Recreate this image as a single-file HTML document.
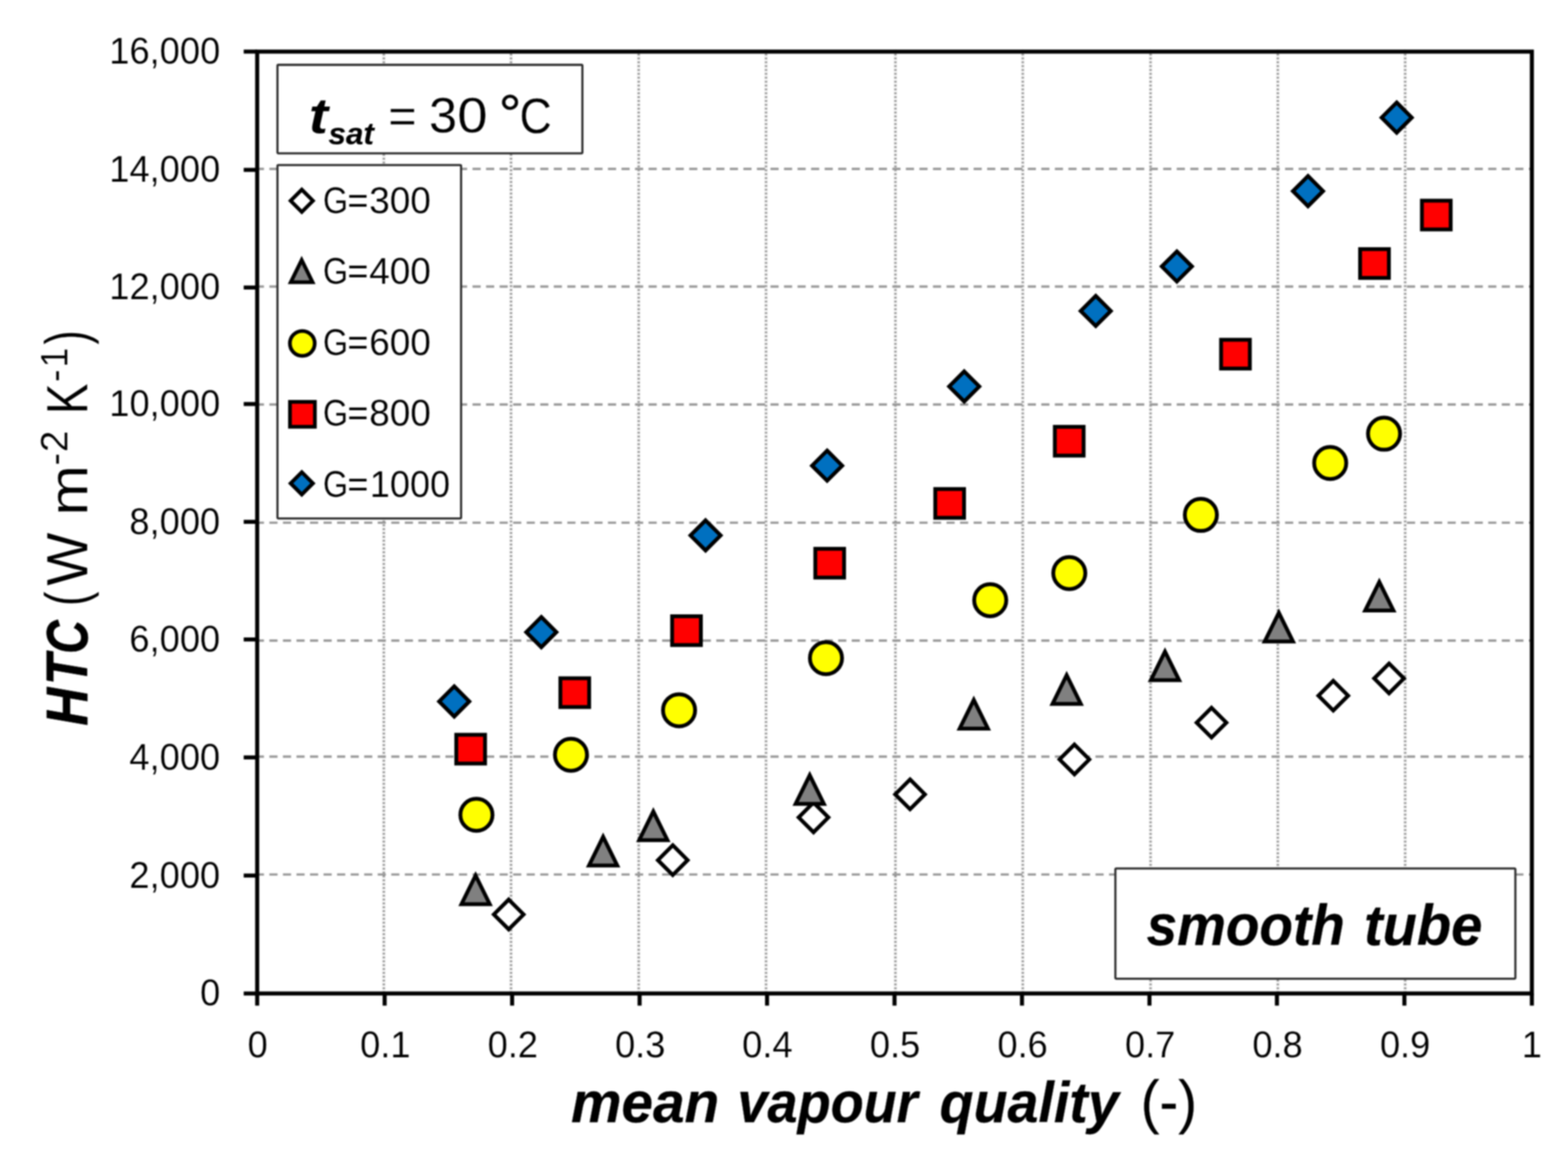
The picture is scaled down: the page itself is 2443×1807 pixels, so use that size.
<!DOCTYPE html>
<html lang="en"><head><meta charset="utf-8"><title>HTC vs mean vapour quality - smooth tube</title>
<style>
html,body{margin:0;padding:0;background:#fff;}
body{width:2443px;height:1807px;overflow:hidden;}
svg{display:block;filter:blur(0.9px);}
text{white-space:pre;}
</style></head>
<body>
<svg width="2443" height="1807" viewBox="0 0 2443 1807" font-family="'Liberation Sans', sans-serif" role="img" aria-label="HTC versus mean vapour quality, smooth tube, t sat = 30 °C">
<rect width="2443" height="1807" fill="#fff"/>
<g fill="none">
<path d="M598 77.8V1547.6M796.2 77.8V1547.6M995.1 77.8V1547.6M1193.5 77.8V1547.6M1395.1 77.8V1547.6M1593.5 77.8V1547.6M1792.6 77.8V1547.6M1990.9 77.8V1547.6M2189.3 77.8V1547.6" stroke="#f3f3f3" stroke-width="5.4"/>
<path d="M598 77.8V1547.6M796.2 77.8V1547.6M995.1 77.8V1547.6M1193.5 77.8V1547.6M1395.1 77.8V1547.6M1593.5 77.8V1547.6M1792.6 77.8V1547.6M1990.9 77.8V1547.6M2189.3 77.8V1547.6" stroke="#909090" stroke-width="3.7" stroke-dasharray="2.5 3.51"/>
</g>
<g stroke="#999999" stroke-width="3.6" stroke-dasharray="12.7 8.4" fill="none">
<path d="M398.6 1362.3H2386.7"/>
<path d="M398.6 1178.6H2386.7"/>
<path d="M398.6 997.9H2386.7"/>
<path d="M398.6 814.2H2386.7"/>
<path d="M398.6 630.1H2386.7"/>
<path d="M398.6 446.4H2386.7"/>
<path d="M398.6 263.1H2386.7"/>
</g>
<rect x="432.3" y="101" width="475.1" height="137.8" rx="1.5" fill="#fff" stroke="#2b2b2b" stroke-width="3.3"/>
<rect x="432.3" y="257.1" width="286.1" height="550.5" rx="1.5" fill="#fff" stroke="#2b2b2b" stroke-width="3.3"/>
<rect x="1737.8" y="1352.9" width="623.2" height="171.7" rx="1.5" fill="#fff" stroke="#2b2b2b" stroke-width="3.3"/>
<g stroke="#000" stroke-width="6.3" fill="none">
<rect x="400.7" y="80.4" width="1986" height="1467.2"/>
<path d="M379.7 1547.6H400.7M379.7 1363.9H400.7M379.7 1179.9H400.7M379.7 996.1H400.7M379.7 812.95H400.7M379.7 629.3H400.7M379.7 447.8H400.7M379.7 264.7H400.7M379.7 80.45H400.7M400.7 1547.6V1566.6M599.3 1547.6V1566.6M797.9 1547.6V1566.6M996.5 1547.6V1566.6M1195.1 1547.6V1566.6M1393.7 1547.6V1566.6M1592.3 1547.6V1566.6M1790.9 1547.6V1566.6M1989.5 1547.6V1566.6M2188.1 1547.6V1566.6M2386.7 1547.6V1566.6"/>
</g>
<g>
<path d="M792.6 1401.34L815.76 1424.5L792.6 1447.66L769.44 1424.5Z" fill="#fff" stroke="#000" stroke-width="6"/>
<path d="M1048.2 1316.74L1071.36 1339.9L1048.2 1363.06L1025.04 1339.9Z" fill="#fff" stroke="#000" stroke-width="6"/>
<path d="M1267.5 1250.14L1290.66 1273.3L1267.5 1296.46L1244.34 1273.3Z" fill="#fff" stroke="#000" stroke-width="6"/>
<path d="M1417.9 1214.24L1441.06 1237.4L1417.9 1260.56L1394.74 1237.4Z" fill="#fff" stroke="#000" stroke-width="6"/>
<path d="M1674 1159.84L1697.16 1183L1674 1206.16L1650.84 1183Z" fill="#fff" stroke="#000" stroke-width="6"/>
<path d="M1887.6 1102.54L1910.76 1125.7L1887.6 1148.86L1864.44 1125.7Z" fill="#fff" stroke="#000" stroke-width="6"/>
<path d="M2077.3 1060.54L2100.46 1083.7L2077.3 1106.86L2054.14 1083.7Z" fill="#fff" stroke="#000" stroke-width="6"/>
<path d="M2164.2 1033.64L2187.36 1056.8L2164.2 1079.96L2141.04 1056.8Z" fill="#fff" stroke="#000" stroke-width="6"/>
<path d="M741 1363.78L763.02 1408.4L718.98 1408.4Z" fill="#808080" stroke="#000" stroke-width="6" stroke-miterlimit="10"/>
<path d="M939.7 1303.58L961.72 1348.2L917.68 1348.2Z" fill="#808080" stroke="#000" stroke-width="6" stroke-miterlimit="10"/>
<path d="M1017.9 1264.08L1039.92 1308.7L995.88 1308.7Z" fill="#808080" stroke="#000" stroke-width="6" stroke-miterlimit="10"/>
<path d="M1261.6 1207.58L1283.62 1252.2L1239.58 1252.2Z" fill="#808080" stroke="#000" stroke-width="6" stroke-miterlimit="10"/>
<path d="M1517.2 1090.38L1539.22 1135L1495.18 1135Z" fill="#808080" stroke="#000" stroke-width="6" stroke-miterlimit="10"/>
<path d="M1661.9 1051.78L1683.92 1096.4L1639.88 1096.4Z" fill="#808080" stroke="#000" stroke-width="6" stroke-miterlimit="10"/>
<path d="M1815.1 1014.98L1837.12 1059.6L1793.08 1059.6Z" fill="#808080" stroke="#000" stroke-width="6" stroke-miterlimit="10"/>
<path d="M1992.5 954.58L2014.52 999.2L1970.48 999.2Z" fill="#808080" stroke="#000" stroke-width="6" stroke-miterlimit="10"/>
<path d="M2149 906.48L2171.02 951.1L2126.98 951.1Z" fill="#808080" stroke="#000" stroke-width="6" stroke-miterlimit="10"/>
<circle cx="742.3" cy="1269.3" r="25" fill="#ffff00" stroke="#000" stroke-width="6"/>
<circle cx="889.6" cy="1175.8" r="25" fill="#ffff00" stroke="#000" stroke-width="6"/>
<circle cx="1058" cy="1106.4" r="25" fill="#ffff00" stroke="#000" stroke-width="6"/>
<circle cx="1286.9" cy="1025.3" r="25" fill="#ffff00" stroke="#000" stroke-width="6"/>
<circle cx="1542.8" cy="935" r="25" fill="#ffff00" stroke="#000" stroke-width="6"/>
<circle cx="1666" cy="892.7" r="25" fill="#ffff00" stroke="#000" stroke-width="6"/>
<circle cx="1871" cy="802.1" r="25" fill="#ffff00" stroke="#000" stroke-width="6"/>
<circle cx="2072.5" cy="721.2" r="25" fill="#ffff00" stroke="#000" stroke-width="6"/>
<circle cx="2156.4" cy="675.6" r="25" fill="#ffff00" stroke="#000" stroke-width="6"/>
<rect x="710.9" y="1144.6" width="44.8" height="44.8" fill="#ff0000" stroke="#000" stroke-width="6"/>
<rect x="873.1" y="1056.6" width="44.8" height="44.8" fill="#ff0000" stroke="#000" stroke-width="6"/>
<rect x="1047.2" y="960" width="44.8" height="44.8" fill="#ff0000" stroke="#000" stroke-width="6"/>
<rect x="1270.3" y="854.9" width="44.8" height="44.8" fill="#ff0000" stroke="#000" stroke-width="6"/>
<rect x="1457.2" y="761.8" width="44.8" height="44.8" fill="#ff0000" stroke="#000" stroke-width="6"/>
<rect x="1643.5" y="664.9" width="44.8" height="44.8" fill="#ff0000" stroke="#000" stroke-width="6"/>
<rect x="1902.5" y="529.3" width="44.8" height="44.8" fill="#ff0000" stroke="#000" stroke-width="6"/>
<rect x="2119.1" y="388.1" width="44.8" height="44.8" fill="#ff0000" stroke="#000" stroke-width="6"/>
<rect x="2215.4" y="312.6" width="44.8" height="44.8" fill="#ff0000" stroke="#000" stroke-width="6"/>
<path d="M707.7 1069.24L731.16 1092.7L707.7 1116.16L684.24 1092.7Z" fill="#0070c0" stroke="#000" stroke-width="6"/>
<path d="M843.4 961.24L866.86 984.7L843.4 1008.16L819.94 984.7Z" fill="#0070c0" stroke="#000" stroke-width="6"/>
<path d="M1099.3 810.54L1122.76 834L1099.3 857.46L1075.84 834Z" fill="#0070c0" stroke="#000" stroke-width="6"/>
<path d="M1288.7 701.94L1312.16 725.4L1288.7 748.86L1265.24 725.4Z" fill="#0070c0" stroke="#000" stroke-width="6"/>
<path d="M1502.3 578.54L1525.76 602L1502.3 625.46L1478.84 602Z" fill="#0070c0" stroke="#000" stroke-width="6"/>
<path d="M1707.2 460.94L1730.66 484.4L1707.2 507.86L1683.74 484.4Z" fill="#0070c0" stroke="#000" stroke-width="6"/>
<path d="M1833.6 391.64L1857.06 415.1L1833.6 438.56L1810.14 415.1Z" fill="#0070c0" stroke="#000" stroke-width="6"/>
<path d="M2037.9 274.24L2061.36 297.7L2037.9 321.16L2014.44 297.7Z" fill="#0070c0" stroke="#000" stroke-width="6"/>
<path d="M2176.1 159.74L2199.56 183.2L2176.1 206.66L2152.64 183.2Z" fill="#0070c0" stroke="#000" stroke-width="6"/>
</g>
<g>
<path d="M470.2 295.4L487.6 312.8L470.2 330.2L452.8 312.8Z" fill="#fff" stroke="#000" stroke-width="5.8"/>
<path d="M470 405.07L486.99 439.6L453.01 439.6Z" fill="#808080" stroke="#000" stroke-width="5.8" stroke-miterlimit="10"/>
<circle cx="471" cy="535" r="19.35" fill="#ffff00" stroke="#000" stroke-width="5.8"/>
<rect x="451.8" y="626" width="38.8" height="38.8" fill="#ff0000" stroke="#000" stroke-width="5.8"/>
<path d="M470.2 735.5L487.6 752.9L470.2 770.3L452.8 752.9Z" fill="#0070c0" stroke="#000" stroke-width="5.8"/>
</g>
<g fill="#000">
<text><tspan x="311.82" y="1566.2" font-size="57.2" textLength="31.43" lengthAdjust="spacingAndGlyphs" stroke="#fff" stroke-width="0.25">0</tspan></text>
<text><tspan x="201.62" y="1382.5" font-size="57.2" textLength="141.43" lengthAdjust="spacingAndGlyphs" stroke="#fff" stroke-width="0.25">2,000</tspan></text>
<text><tspan x="201.62" y="1198.5" font-size="57.2" textLength="141.43" lengthAdjust="spacingAndGlyphs" stroke="#fff" stroke-width="0.25">4,000</tspan></text>
<text><tspan x="201.62" y="1014.7" font-size="57.2" textLength="141.43" lengthAdjust="spacingAndGlyphs" stroke="#fff" stroke-width="0.25">6,000</tspan></text>
<text><tspan x="201.62" y="831.55" font-size="57.2" textLength="141.43" lengthAdjust="spacingAndGlyphs" stroke="#fff" stroke-width="0.25">8,000</tspan></text>
<text><tspan x="170.25" y="647.9" font-size="57.2" textLength="172.85" lengthAdjust="spacingAndGlyphs" stroke="#fff" stroke-width="0.25">10,000</tspan></text>
<text><tspan x="170.25" y="466.4" font-size="57.2" textLength="172.85" lengthAdjust="spacingAndGlyphs" stroke="#fff" stroke-width="0.25">12,000</tspan></text>
<text><tspan x="170.25" y="283.3" font-size="57.2" textLength="172.85" lengthAdjust="spacingAndGlyphs" stroke="#fff" stroke-width="0.25">14,000</tspan></text>
<text><tspan x="170.25" y="99.05" font-size="57.2" textLength="172.85" lengthAdjust="spacingAndGlyphs" stroke="#fff" stroke-width="0.25">16,000</tspan></text>
<text><tspan x="385.82" y="1646.9" font-size="57.2" textLength="31.43" lengthAdjust="spacingAndGlyphs" stroke="#fff" stroke-width="0.25">0</tspan></text>
<text><tspan x="561.11" y="1646.9" font-size="57.2" textLength="78.56" lengthAdjust="spacingAndGlyphs" stroke="#fff" stroke-width="0.25">0.1</tspan></text>
<text><tspan x="759.71" y="1646.9" font-size="57.2" textLength="78.56" lengthAdjust="spacingAndGlyphs" stroke="#fff" stroke-width="0.25">0.2</tspan></text>
<text><tspan x="958.16" y="1646.9" font-size="57.2" textLength="78.56" lengthAdjust="spacingAndGlyphs" stroke="#fff" stroke-width="0.25">0.3</tspan></text>
<text><tspan x="1156.34" y="1646.9" font-size="57.2" textLength="78.56" lengthAdjust="spacingAndGlyphs" stroke="#fff" stroke-width="0.25">0.4</tspan></text>
<text><tspan x="1355.22" y="1646.9" font-size="57.2" textLength="78.56" lengthAdjust="spacingAndGlyphs" stroke="#fff" stroke-width="0.25">0.5</tspan></text>
<text><tspan x="1553.96" y="1646.9" font-size="57.2" textLength="78.56" lengthAdjust="spacingAndGlyphs" stroke="#fff" stroke-width="0.25">0.6</tspan></text>
<text><tspan x="1752.71" y="1646.9" font-size="57.2" textLength="78.56" lengthAdjust="spacingAndGlyphs" stroke="#fff" stroke-width="0.25">0.7</tspan></text>
<text><tspan x="1951.16" y="1646.9" font-size="57.2" textLength="78.56" lengthAdjust="spacingAndGlyphs" stroke="#fff" stroke-width="0.25">0.8</tspan></text>
<text><tspan x="2149.91" y="1646.9" font-size="57.2" textLength="78.56" lengthAdjust="spacingAndGlyphs" stroke="#fff" stroke-width="0.25">0.9</tspan></text>
<text><tspan x="2371.11" y="1646.9" font-size="57.2" textLength="31.43" lengthAdjust="spacingAndGlyphs" stroke="#fff" stroke-width="0.25">1</tspan></text>
<text><tspan x="503.17" y="331.6" font-size="57.2" textLength="39.01" lengthAdjust="spacingAndGlyphs" stroke="#fff" stroke-width="0.25">G</tspan><tspan x="541.28" y="331.6" font-size="57.2" textLength="32.69" lengthAdjust="spacingAndGlyphs" stroke="#fff" stroke-width="0.25">=</tspan><tspan x="575.2" y="331.6" font-size="57.2" textLength="96.2" lengthAdjust="spacingAndGlyphs" stroke="#fff" stroke-width="0.25">300</tspan></text>
<text><tspan x="503.17" y="442.3" font-size="57.2" textLength="39.01" lengthAdjust="spacingAndGlyphs" stroke="#fff" stroke-width="0.25">G</tspan><tspan x="541.28" y="442.3" font-size="57.2" textLength="32.69" lengthAdjust="spacingAndGlyphs" stroke="#fff" stroke-width="0.25">=</tspan><tspan x="575.2" y="442.3" font-size="57.2" textLength="96.2" lengthAdjust="spacingAndGlyphs" stroke="#fff" stroke-width="0.25">400</tspan></text>
<text><tspan x="503.17" y="553.2" font-size="57.2" textLength="39.01" lengthAdjust="spacingAndGlyphs" stroke="#fff" stroke-width="0.25">G</tspan><tspan x="541.28" y="553.2" font-size="57.2" textLength="32.69" lengthAdjust="spacingAndGlyphs" stroke="#fff" stroke-width="0.25">=</tspan><tspan x="575.2" y="553.2" font-size="57.2" textLength="96.2" lengthAdjust="spacingAndGlyphs" stroke="#fff" stroke-width="0.25">600</tspan></text>
<text><tspan x="503.17" y="663" font-size="57.2" textLength="39.01" lengthAdjust="spacingAndGlyphs" stroke="#fff" stroke-width="0.25">G</tspan><tspan x="541.28" y="663" font-size="57.2" textLength="32.69" lengthAdjust="spacingAndGlyphs" stroke="#fff" stroke-width="0.25">=</tspan><tspan x="575.2" y="663" font-size="57.2" textLength="96.2" lengthAdjust="spacingAndGlyphs" stroke="#fff" stroke-width="0.25">800</tspan></text>
<text><tspan x="503.17" y="773.8" font-size="57.2" textLength="39.01" lengthAdjust="spacingAndGlyphs" stroke="#fff" stroke-width="0.25">G</tspan><tspan x="541.28" y="773.8" font-size="57.2" textLength="32.69" lengthAdjust="spacingAndGlyphs" stroke="#fff" stroke-width="0.25">=</tspan><tspan x="576.26" y="773.8" font-size="57.2" textLength="124.88" lengthAdjust="spacingAndGlyphs" stroke="#fff" stroke-width="0.25">1000</tspan></text>
<text><tspan x="481.16" y="206.82" font-size="78.33" textLength="29.87" lengthAdjust="spacingAndGlyphs" font-weight="bold" font-style="italic">t</tspan><tspan x="511.66" y="224.8" font-size="48.5" textLength="84.57" lengthAdjust="spacingAndGlyphs" font-weight="bold" font-style="italic" stroke="#000" stroke-width="0.2" stroke-linejoin="round">sat </tspan><tspan x="605.09" y="207.4" font-size="76.5" textLength="64.86" lengthAdjust="spacingAndGlyphs" stroke="#fff" stroke-width="0.3">= </tspan><tspan x="668.52" y="206.28" font-size="76.9" textLength="43.55" lengthAdjust="spacingAndGlyphs" stroke="#fff" stroke-width="0.3">3</tspan><tspan x="712.56" y="206.28" font-size="76.9" textLength="70.58" lengthAdjust="spacingAndGlyphs" stroke="#fff" stroke-width="0.3">0 </tspan><tspan x="777.15" y="206" font-size="84.29" textLength="34.99" lengthAdjust="spacingAndGlyphs" stroke="#000" stroke-width="0.6" stroke-linejoin="round">°</tspan><tspan x="809.48" y="207.17" font-size="78.17" textLength="50.09" lengthAdjust="spacingAndGlyphs" stroke="#fff" stroke-width="0.3">C</tspan></text>
<text><tspan x="1786.52" y="1472.3" font-size="89.5" textLength="332.53" lengthAdjust="spacingAndGlyphs" font-weight="bold" font-style="italic" stroke="#000" stroke-width="0.4" stroke-linejoin="round">smooth </tspan><tspan x="2125.17" y="1472.3" font-size="89.5" textLength="184.39" lengthAdjust="spacingAndGlyphs" font-weight="bold" font-style="italic" stroke="#000" stroke-width="0.4" stroke-linejoin="round">tube</tspan></text>
<text><tspan x="889.63" y="1748" font-size="89.5" textLength="255.58" lengthAdjust="spacingAndGlyphs" font-weight="bold" font-style="italic" stroke="#000" stroke-width="0.4" stroke-linejoin="round">mean </tspan><tspan x="1148.97" y="1748" font-size="89.5" textLength="304.27" lengthAdjust="spacingAndGlyphs" font-weight="bold" font-style="italic" stroke="#000" stroke-width="0.4" stroke-linejoin="round">vapour </tspan><tspan x="1464.1" y="1748" font-size="89.5" textLength="303.02" lengthAdjust="spacingAndGlyphs" font-weight="bold" font-style="italic" stroke="#000" stroke-width="0.4" stroke-linejoin="round">quality </tspan><tspan x="1777.18" y="1748.3" font-size="93" textLength="87.8" lengthAdjust="spacingAndGlyphs" stroke="#000" stroke-width="0.3" stroke-linejoin="round">(-)</tspan></text>
<text transform="rotate(-90)"><tspan x="-1130.54" y="135.9" font-size="90" textLength="59.18" lengthAdjust="spacingAndGlyphs" font-weight="bold" font-style="italic" stroke="#000" stroke-width="0.8" stroke-linejoin="round">H</tspan><tspan x="-1067.01" y="135.9" font-size="90" textLength="48.07" lengthAdjust="spacingAndGlyphs" font-weight="bold" font-style="italic" stroke="#000" stroke-width="0.8" stroke-linejoin="round">T</tspan><tspan x="-1018.52" y="135.9" font-size="90" textLength="72.35" lengthAdjust="spacingAndGlyphs" font-weight="bold" font-style="italic" stroke="#000" stroke-width="0.8" stroke-linejoin="round">C </tspan><tspan x="-943.95" y="134.8" font-size="92.4" textLength="22.75" lengthAdjust="spacingAndGlyphs" stroke="#fff" stroke-width="0.3">(</tspan><tspan x="-912.39" y="135.9" font-size="90" textLength="107.01" lengthAdjust="spacingAndGlyphs" stroke="#fff" stroke-width="0.3">W </tspan><tspan x="-803.2" y="135.9" font-size="85.5" textLength="78.78" lengthAdjust="spacingAndGlyphs" stroke="#fff" stroke-width="0.3">m</tspan><tspan x="-725.08" y="105.2" font-size="60" textLength="19.44" lengthAdjust="spacingAndGlyphs" stroke="#fff" stroke-width="0.3">-</tspan><tspan x="-704.35" y="105.2" font-size="60" textLength="50.04" lengthAdjust="spacingAndGlyphs" stroke="#fff" stroke-width="0.3">2 </tspan><tspan x="-645.07" y="135.9" font-size="90" textLength="47.68" lengthAdjust="spacingAndGlyphs" stroke="#fff" stroke-width="0.3">K</tspan><tspan x="-594.99" y="105.2" font-size="60" textLength="19.58" lengthAdjust="spacingAndGlyphs" stroke="#fff" stroke-width="0.3">-</tspan><tspan x="-572.25" y="105.2" font-size="60" textLength="30.4" lengthAdjust="spacingAndGlyphs" stroke="#fff" stroke-width="0.3">1</tspan><tspan x="-537.02" y="134.8" font-size="92.4" textLength="22.42" lengthAdjust="spacingAndGlyphs" stroke="#fff" stroke-width="0.3">)</tspan></text>
</g>
</svg>
</body></html>
